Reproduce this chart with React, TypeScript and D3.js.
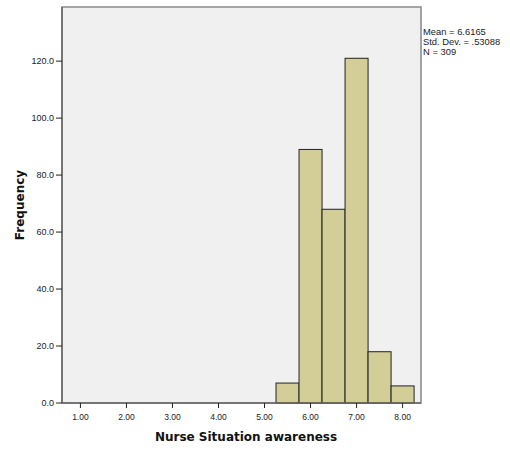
import React from "react";
import * as d3 from "d3";

const binStarts = [5.25, 5.75, 6.25, 6.75, 7.25, 7.75];
const binWidth = 0.5;
const counts = [7, 89, 68, 121, 18, 6];
const xTicks = [1, 2, 3, 4, 5, 6, 7, 8];
const yTicks = [0, 20, 40, 60, 80, 100, 120];
const stats = ["Mean = 6.6165", "Std. Dev. = .53088", "N = 309"];

export default function App() {
  const W = 510, H = 450;
  const left = 62, right = 421, top = 7, bottom = 403;
  const x = d3.scaleLinear().domain([0.6, 8.4]).range([left, right]);
  const y = d3.scaleLinear().domain([0, 139]).range([bottom, top]);
  const font = "'Liberation Sans', Arial, sans-serif";
  const boldFont = "'DejaVu Sans', Verdana, sans-serif";
  return (
    <svg width={W} height={H} style={{ position: "absolute", left: 0, top: 0 }} fontFamily={font}>
      <rect x={0} y={0} width={W} height={H} fill="#ffffff" />
      <rect x={left} y={top} width={right - left} height={bottom - top} fill="#f0f0f0" stroke="#888888" strokeWidth={1.5} />
      {counts.map((c, i) => (
        <rect
          key={i}
          x={x(binStarts[i])}
          y={y(c)}
          width={x(binStarts[i] + binWidth) - x(binStarts[i])}
          height={y(0) - y(c)}
          fill="#d3ce97"
          stroke="#222222"
          strokeWidth={1}
        />
      ))}
      <line x1={left} x2={right} y1={bottom} y2={bottom} stroke="#666" strokeWidth={1.5} />
      <line x1={left} x2={left} y1={top} y2={bottom} stroke="#666" strokeWidth={1.5} />
      {yTicks.map((t) => (
        <g key={t}>
          <line x1={left - 6} x2={left} y1={y(t)} y2={y(t)} stroke="#222" strokeWidth={1} />
          <text x={left - 8} y={y(t)} dy="0.35em" textAnchor="end" fontSize={9} fill="#222">
            {t.toFixed(1)}
          </text>
        </g>
      ))}
      {xTicks.map((t) => (
        <g key={t}>
          <line x1={x(t)} x2={x(t)} y1={bottom} y2={bottom + 5} stroke="#222" strokeWidth={1} />
          <text x={x(t)} y={bottom + 17} textAnchor="middle" fontSize={8.5} fill="#222">
            {t.toFixed(2)}
          </text>
        </g>
      ))}
      <text x={246} y={441} textAnchor="middle" fontSize={12} fontWeight="bold" fill="#111" fontFamily={boldFont}>
        Nurse Situation awareness
      </text>
      <text transform={`translate(24,205) rotate(-90)`} textAnchor="middle" fontSize={12} fontWeight="bold" fill="#111" fontFamily={boldFont}>
        Frequency
      </text>
      {stats.map((s, i) => (
        <text key={i} x={423} y={35 + i * 10} fontSize={9.4} fill="#222">
          {s}
        </text>
      ))}
    </svg>
  );
}
